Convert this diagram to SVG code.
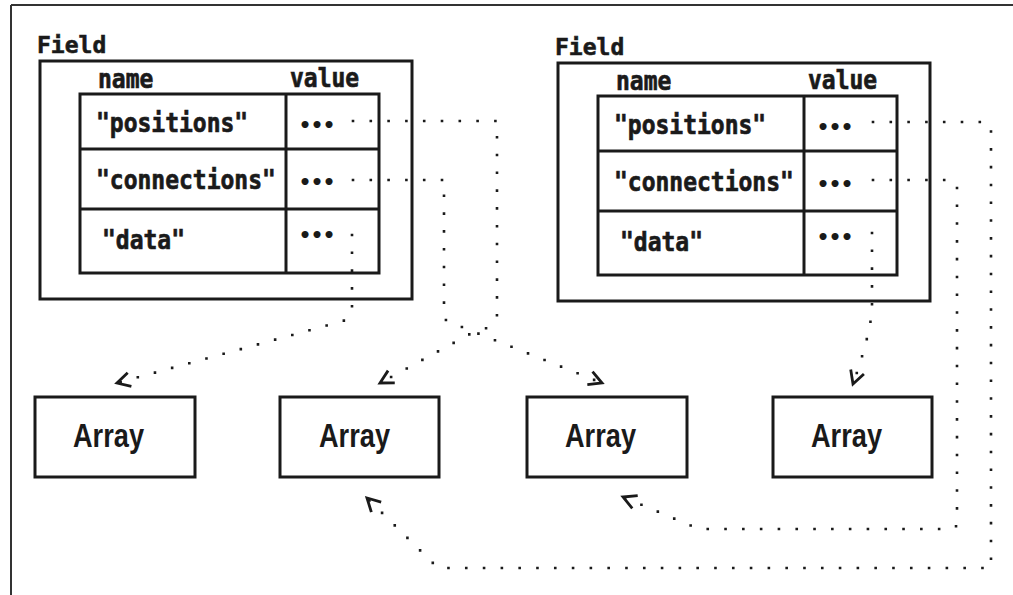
<svg xmlns="http://www.w3.org/2000/svg" width="1013" height="595" viewBox="0 0 1013 595">
  <style>
    .box { fill: #fff; stroke: #1a1a1a; stroke-width: 3; }
    .rule { stroke: #1a1a1a; stroke-width: 3; fill: none; }
    .frame { stroke: #333; stroke-width: 2; fill: none; }
    .mono { font-family: "DejaVu Sans Mono", "Liberation Mono", monospace; font-weight: bold; font-size: 23px; fill: #1a1a1a; stroke: #1a1a1a; stroke-width: 0.6; }
    .ell { font-family: "DejaVu Sans Mono", "Liberation Mono", monospace; font-weight: bold; font-size: 20px; fill: #1a1a1a; }
    .arr { font-family: "Liberation Sans", "DejaVu Sans", sans-serif; font-weight: bold; font-size: 34px; fill: #1a1a1a; }
    .link { fill: none; stroke: #1a1a1a; stroke-width: 2.6; stroke-dasharray: 0 17.8; stroke-linecap: square; marker-end: url(#chev); }
  </style>
  <defs>
    <marker id="chev" markerUnits="userSpaceOnUse" markerWidth="30" markerHeight="30" viewBox="-15 -15 30 30" refX="0" refY="0" orient="auto">
      <path d="M-13,-7 L0,0 L-13,7" fill="none" stroke="#1a1a1a" stroke-width="2.8" stroke-dasharray="none" stroke-linecap="butt"/>
    </marker>
    <!-- name/value table shared by both Field nodes; row labels are drawn tall -->
    <g id="fieldBody">
      <text class="mono" x="37" y="53">Field</text>
      <rect class="box" x="40" y="61" width="372" height="238"/>
      <text class="mono" transform="matrix(1 0 0 1.15 98 88)">name</text>
      <text class="mono" transform="matrix(1 0 0 1.15 290 87)">value</text>
      <rect class="box" x="80" y="94" width="299" height="179"/>
      <line class="rule" x1="286" y1="94" x2="286" y2="273"/>
      <line class="rule" x1="80" y1="149" x2="379" y2="149"/>
      <line class="rule" x1="80" y1="209" x2="379" y2="209"/>
      <text class="mono" transform="matrix(1 0 0 1.15 96 132)">"positions"</text>
      <text class="mono" transform="matrix(1 0 0 1.15 96 189)">"connections"</text>
      <text class="mono" transform="matrix(1 0 0 1.15 102 249)">"data"</text>
      <text class="ell" x="299" y="132">•••</text>
      <text class="ell" x="299" y="189">•••</text>
      <text class="ell" x="299" y="242">•••</text>
    </g>
  </defs>

  <!-- page frame: top and left edges only -->
  <g id="frame">
    <line class="frame" x1="11" y1="5" x2="1013" y2="5"/>
    <line class="frame" x1="11" y1="5" x2="11" y2="595"/>
  </g>

  <g id="field-left">
    <use href="#fieldBody"/>
  </g>
  <g id="field-right" transform="translate(518,2)">
    <use href="#fieldBody"/>
  </g>

  <g id="array-1">
    <rect class="box" x="35" y="397" width="160" height="80"/>
    <text class="arr" x="73" y="447" textLength="71" lengthAdjust="spacingAndGlyphs">Array</text>
  </g>
  <g id="array-2">
    <rect class="box" x="280" y="397" width="159" height="80"/>
    <text class="arr" x="319" y="447" textLength="71" lengthAdjust="spacingAndGlyphs">Array</text>
  </g>
  <g id="array-3">
    <rect class="box" x="527" y="397" width="160" height="80"/>
    <text class="arr" x="565" y="447" textLength="71" lengthAdjust="spacingAndGlyphs">Array</text>
  </g>
  <g id="array-4">
    <rect class="box" x="773" y="397" width="159" height="80"/>
    <text class="arr" x="811" y="447" textLength="71" lengthAdjust="spacingAndGlyphs">Array</text>
  </g>

  <g id="connectors">
    <!-- left Field -->
    <path class="link" d="M353,121 H497 V314 C497,322 490,329 470,334 L380,383"/>
    <path class="link" d="M353,180 H444 V316 C446,323 452,325 462,327 L602,383"/>
    <path class="link" d="M352,235 V310 C350,318 346,321 336,323 L117,383"/>
    <!-- right Field -->
    <path class="link" d="M873,122 H984 Q991,122 991,129 V568 H438 L367,498"/>
    <path class="link" d="M873,180 H950 Q957,180 957,187 V522 Q957,529 950,529 H699 L623,497"/>
    <path class="link" d="M872,233 V305 Q872,330 853,384"/>
  </g>
</svg>
